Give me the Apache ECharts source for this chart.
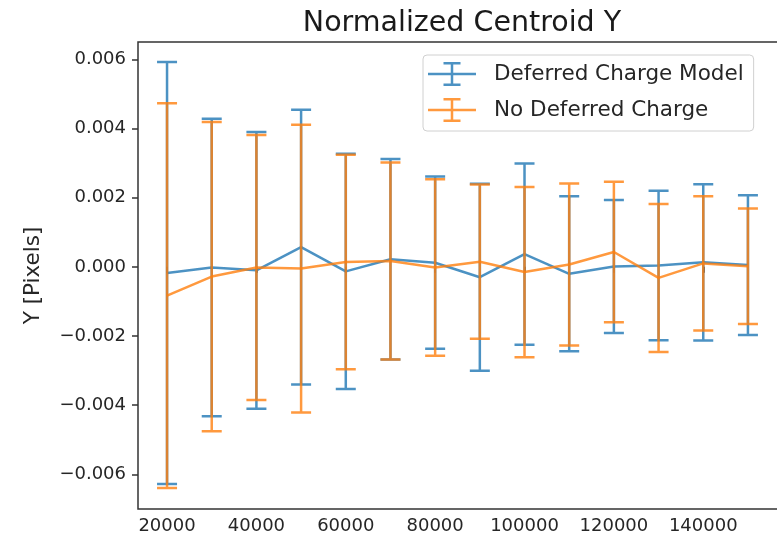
<!DOCTYPE html>
<html>
<head>
<meta charset="utf-8">
<script src="https://cdn.jsdelivr.net/npm/echarts@6/dist/echarts.min.js"></script>
<style>html,body{margin:0;padding:0;background:#fff}#c{width:777px;height:543px}</style>
</head>
<body>
<div id="c"></div>
<script>
const xValues = [20000, 30000, 40000, 50000, 60000, 70000, 80000, 90000, 100000, 110000, 120000, 130000, 140000, 150000];
const deferredMean = [-0.00018, -0.00002, -0.0001, 0.00057, -0.00013, 0.00022, 0.00012, -0.0003, 0.00037, -0.0002, 0.00001, 0.00004, 0.00013, 0.00005];
const deferredErr  = [0.0061, 0.0043, 0.0040, 0.00397, 0.0034, 0.0029, 0.00249, 0.0027, 0.00262, 0.00224, 0.00192, 0.00216, 0.00226, 0.00202];
const noDeferredMean = [-0.00083, -0.00028, -0.00002, -0.00005, 0.00014, 0.00017, -0.00002, 0.00015, -0.00015, 0.00007, 0.00043, -0.00032, 0.0001, 0.00002];
const noDeferredErr  = [0.00556, 0.00447, 0.00383, 0.00416, 0.0031, 0.00285, 0.00255, 0.00223, 0.00246, 0.00234, 0.00203, 0.00214, 0.00194, 0.00167];
const xTicks = [20000, 40000, 60000, 80000, 100000, 120000, 140000];
const yTicks = [-0.006, -0.004, -0.002, 0, 0.002, 0.004, 0.006];
const seriesNames = ['Deferred Charge Model', 'No Deferred Charge'];
const titleText = 'Normalized Centroid Y';
const yAxisTitle = 'Y [Pixels]';

const BLUE = '#1f77b4', ORANGE = '#ff7f0e', ALPHA = 0.8;
const FONT = 'DejaVu Sans';
const ICON = 'path://M0,10.75h48v2.5h-48z M22.75,0h2.5v24h-2.5z M15.5,0h17v2.5h-17z M15.5,21.5h17v2.5h-17z';

function errRender(color) {
  return function (params, api) {
    const x = api.value(0), m = api.value(1), e = api.value(2);
    const t = api.coord([x, m + e]), b = api.coord([x, m - e]);
    const hw = 10;
    const d = 'M' + (t[0] - hw) + ',' + t[1] + 'L' + (t[0] + hw) + ',' + t[1] +
              'M' + t[0] + ',' + t[1] + 'L' + b[0] + ',' + b[1] +
              'M' + (b[0] - hw) + ',' + b[1] + 'L' + (b[0] + hw) + ',' + b[1];
    return { type: 'path', shape: { pathData: d },
      style: { stroke: color, fill: null, lineWidth: 2.5, opacity: ALPHA } };
  };
}

function errSeries(name, mean, err, color, z) {
  return { type: 'custom', name: name, z: z, silent: true,
    itemStyle: { color: color },
    data: xValues.map((x, i) => [x, mean[i], err[i]]),
    encode: { x: 0, y: 1 },
    renderItem: errRender(color) };
}
function lineSeries(name, mean, color, z) {
  return { type: 'line', name: name, z: z, symbol: 'none', silent: true,
    itemStyle: { color: color },
    lineStyle: { color: color, width: 2.5, opacity: ALPHA },
    data: xValues.map((x, i) => [x, mean[i]]) };
}

const chart = echarts.init(document.getElementById('c'), null, { renderer: 'canvas' });
chart.setOption({
  animation: false,
  backgroundColor: '#fff',
  textStyle: { fontFamily: FONT },
  title: { text: titleText, left: 457, top: 4, textAlign: 'center',
    textStyle: { fontFamily: FONT, fontSize: 28.5, fontWeight: 'normal', color: '#1a1a1a' } },
  legend: {
    orient: 'vertical', left: 423, top: 55,
    padding: [7, 10, 9, 5], itemGap: 12, itemWidth: 48, itemHeight: 24,
    backgroundColor: '#fff', borderColor: '#d0d0d0', borderWidth: 1, borderRadius: 4,
    textStyle: { fontFamily: FONT, fontSize: 21.5, color: '#262626', padding: [0, 0, 0, 13], lineHeight: 24 },
    selectedMode: false,
    data: [
      { name: seriesNames[0], icon: ICON, itemStyle: { color: BLUE, opacity: ALPHA, borderWidth: 0 } },
      { name: seriesNames[1], icon: ICON, itemStyle: { color: ORANGE, opacity: ALPHA, borderWidth: 0 } }
    ]
  },
  grid: { left: 138, top: 42, right: -4, bottom: 34, show: true, borderColor: '#333', borderWidth: 1.5,
    backgroundColor: 'transparent', outerBoundsMode: 'none', containLabel: false },
  xAxis: {
    type: 'value', min: 13500, max: 157400,
    splitLine: { show: false },
    axisLine: { show: false },
    axisTick: { show: true, length: 6, lineStyle: { color: '#333', width: 1.5 }, customValues: xTicks },
    axisLabel: { customValues: xTicks, margin: 8, fontFamily: FONT, fontSize: 18, color: '#262626',
      formatter: v => String(Math.round(v)) }
  },
  yAxis: {
    type: 'value', min: -0.0070, max: 0.0065,
    name: yAxisTitle, nameLocation: 'middle', nameGap: 94,
    nameTextStyle: { fontFamily: FONT, fontSize: 21.5, color: '#262626' },
    splitLine: { show: false },
    axisLine: { show: false },
    axisTick: { show: true, length: 6, lineStyle: { color: '#333', width: 1.5 }, customValues: yTicks },
    axisLabel: { customValues: yTicks, margin: 12, fontFamily: FONT, fontSize: 18, color: '#262626',
      formatter: v => (v < -1e-12 ? '\u2212' : '') + Math.abs(v).toFixed(3) }
  },
  series: [
    errSeries(seriesNames[0], deferredMean, deferredErr, BLUE, 2),
    lineSeries(seriesNames[0], deferredMean, BLUE, 3),
    errSeries(seriesNames[1], noDeferredMean, noDeferredErr, ORANGE, 4),
    lineSeries(seriesNames[1], noDeferredMean, ORANGE, 5)
  ]
});
</script>
</body>
</html>
